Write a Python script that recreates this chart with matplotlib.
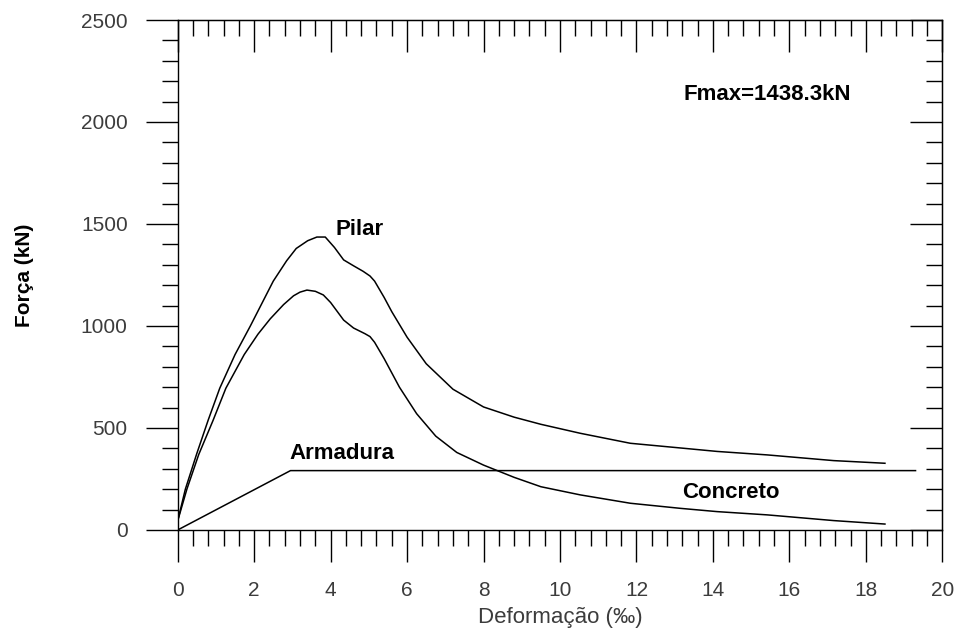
import matplotlib
matplotlib.use("Agg")
import matplotlib.pyplot as plt
from matplotlib.ticker import MultipleLocator

# data
pilar_x = [0, 0.2, 0.5, 0.8, 1.1, 1.5, 1.9, 2.2, 2.5, 2.85, 3.1, 3.4, 3.64, 3.86,
           4.1, 4.34, 4.6, 4.85, 5.03, 5.15, 5.4, 5.6, 6.0, 6.5, 7.2, 8.0, 8.8,
           9.5, 10.53, 11.84, 13.15, 14.11, 15.42, 17.16, 18.5]
pilar_y = [45, 200, 375, 540, 695, 860, 1000, 1110, 1220, 1320, 1380, 1418, 1436, 1436,
           1385, 1324, 1295, 1268, 1245, 1220, 1140, 1070, 945, 815, 690, 603, 553,
           518, 474, 425, 402, 385, 368, 340, 327]

concreto_x = [0, 0.24, 0.55, 0.92, 1.26, 1.74, 2.1, 2.42, 2.77, 3.03, 3.2, 3.38, 3.6,
              3.81, 4.0, 4.34, 4.6, 4.9, 5.03, 5.15, 5.4, 5.8, 6.25, 6.75, 7.3, 8.0,
              8.8, 9.5, 10.53, 11.84, 13.15, 14.11, 15.42, 17.16, 18.5]
concreto_y = [45, 200, 370, 535, 695, 860, 960, 1035, 1105, 1148, 1166, 1176, 1170,
              1152, 1115, 1029, 990, 962, 948, 920, 840, 700, 570, 460, 380, 318,
              258, 212, 172, 131, 106, 90, 74, 46, 29]

armadura_x = [0, 2.95, 19.3]
armadura_y = [0, 291, 291]

x_ticks = list(range(0, 21, 2))
y_ticks = list(range(0, 2501, 500))

FONT = "Liberation Sans"
TICK_COLOR = "#3c3c3c"

fig = plt.figure(figsize=(9.58, 6.35), dpi=100)
ax = fig.add_axes([0.1855, 0.1654, 0.7981, 0.8031])

ax.plot(pilar_x, pilar_y, color="black", lw=1.1)
ax.plot(concreto_x, concreto_y, color="black", lw=1.1)
ax.plot(armadura_x, armadura_y, color="black", lw=1.1)

ax.set_xlim(0, 20)
ax.set_ylim(0, 2500)
ax.set_xticks(x_ticks)
ax.set_yticks(y_ticks)
ax.xaxis.set_minor_locator(MultipleLocator(0.4))
ax.yaxis.set_minor_locator(MultipleLocator(100))

for side in ax.spines.values():
    side.set_linewidth(1.0)

# bottom / left ticks point outward
ax.tick_params(axis="x", which="major", direction="out", length=23, width=1.0,
               pad=14, labelsize=15, labelcolor=TICK_COLOR)
ax.tick_params(axis="x", which="minor", direction="out", length=11.5, width=1.0)
ax.tick_params(axis="y", which="major", direction="out", length=23, width=1.0,
               pad=13, labelsize=15, labelcolor=TICK_COLOR)
ax.tick_params(axis="y", which="minor", direction="out", length=11.5, width=1.0)
for lab in ax.get_xticklabels() + ax.get_yticklabels():
    lab.set_fontfamily(FONT)

# top / right ticks point inward
top = ax.secondary_xaxis("top")
top.set_xticks(x_ticks)
top.xaxis.set_minor_locator(MultipleLocator(0.4))
top.tick_params(which="major", direction="in", length=23, width=1.0, labeltop=False)
top.tick_params(which="minor", direction="in", length=11.5, width=1.0)

right = ax.secondary_yaxis("right")
right.set_yticks(y_ticks)
right.yaxis.set_minor_locator(MultipleLocator(100))
right.tick_params(which="major", direction="in", length=23, width=1.0, labelright=False)
right.tick_params(which="minor", direction="in", length=11.5, width=1.0)

ax.set_xlabel("Deformação (‰)", fontsize=16, family=FONT, color=TICK_COLOR, va="center")
ax.xaxis.set_label_coords(0.5, -0.1725)
ax.set_ylabel("Força (kN)", fontsize=15, family=FONT, fontweight="bold", va="center")
ax.yaxis.set_label_coords(-0.201, 0.5)

ax.text(4.14, 1474, "Pilar", fontsize=16, family=FONT, fontweight="bold", ha="left", va="center")
ax.text(2.92, 376, "Armadura", fontsize=16, family=FONT, fontweight="bold", ha="left", va="center")
ax.text(13.19, 185, "Concreto", fontsize=16, family=FONT, fontweight="bold", ha="left", va="center")
ax.text(13.24, 2136, "Fmax=1438.3kN", fontsize=16, family=FONT, fontweight="bold", ha="left", va="center")

fig.savefig("out.png", dpi=100)
